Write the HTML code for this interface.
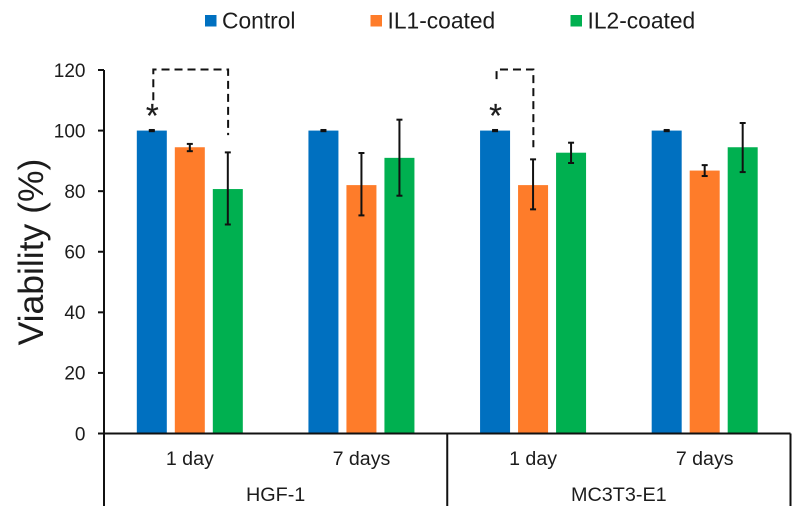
<!DOCTYPE html>
<html>
<head>
<meta charset="utf-8">
<title>Viability chart</title>
<style>
html,body{margin:0;padding:0;background:#fff;width:800px;height:517px;overflow:hidden}
svg{display:block;font-family:"Liberation Sans",Arial,sans-serif;fill:#1c1c1c}
</style>
</head>
<body>
<svg id="chart" width="800" height="517" viewBox="0 0 800 517" xmlns="http://www.w3.org/2000/svg"></svg>
<script>
const cellLines = ['HGF-1', 'MC3T3-E1'];
const timepoints = ['1 day', '7 days', '1 day', '7 days'];
const seriesNames = ['Control', 'IL1-coated', 'IL2-coated'];
const controlValues = [100, 100, 100, 100];
const il1Values = [94.5, 82, 82, 86.8];
const il2Values = [80.7, 91, 92.7, 94.5];
const controlLow = [99.8, 99.8, 99.8, 99.8];
const controlHigh = [100.2, 100.2, 100.2, 100.2];
const il1Low = [93.2, 72, 74, 85];
const il1High = [95.6, 92.6, 90.5, 88.6];
const il2Low = [69, 78.5, 89.3, 86.3];
const il2High = [92.8, 103.6, 96, 102.5];
const yTicks = [0, 20, 40, 60, 80, 100, 120];
const bracketTop = [120, 120];
const bracketBottoms = [[110, 98.5], [117, 94.5]];

const seriesValues = [controlValues, il1Values, il2Values];
const seriesLow = [controlLow, il1Low, il2Low];
const seriesHigh = [controlHigh, il1High, il2High];
const seriesColors = ['#0070c0', '#fe7c2a', '#00b050'];

const svg = document.getElementById('chart');
const NS = 'http://www.w3.org/2000/svg';
const plotLeft = 104, plotRight = 790.5, plotBottom = 433.5, plotTop = 70;
const yMax = 120;
const barWidth = 30, barStep = 38;
const ink = '#111';

function yScale(v) { return plotBottom - (v / yMax) * (plotBottom - plotTop); }
function categoryCenter(i) { return plotLeft + (plotRight - plotLeft) * (i + 0.5) / timepoints.length; }
function barCenter(i, s) { return categoryCenter(i) + (s - 1) * barStep; }

function make(tag, attrs, text) {
  const el = document.createElementNS(NS, tag);
  for (const k in attrs) el.setAttribute(k, attrs[k]);
  if (text !== undefined) el.textContent = text;
  svg.appendChild(el);
  return el;
}
function seg(x1, y1, x2, y2, width, dash) {
  const el = make('line', { x1: x1, y1: y1, x2: x2, y2: y2, stroke: ink, 'stroke-width': width });
  if (dash) el.setAttribute('stroke-dasharray', dash);
  return el;
}

// bars
seriesValues.forEach(function (vals, s) {
  vals.forEach(function (v, i) {
    const r = make('rect', { x: barCenter(i, s) - barWidth / 2, y: yScale(v), width: barWidth, height: plotBottom - yScale(v), fill: seriesColors[s] });
    
    
  });
});

// error bars
seriesLow.forEach(function (lows, s) {
  lows.forEach(function (lo, i) {
    const hi = seriesHigh[s][i];
    const cx = barCenter(i, s);
    const a = seg(cx, yScale(lo), cx, yScale(hi), 2);
    
    
    const b = seg(cx - 3, yScale(lo), cx + 3, yScale(lo), 2);
    
    
    const c = seg(cx - 3, yScale(hi), cx + 3, yScale(hi), 2);
    
    
  });
});

// y axis
const yAxis = seg(plotLeft, plotTop, plotLeft, 506, 2);


yTicks.forEach(function (t) {
  const m = seg(plotLeft - 6, yScale(t), plotLeft, yScale(t), 2);
  
  
  const l = make('text', { x: 85.5, y: yScale(t) + 6.8, 'text-anchor': 'end', 'font-size': 19 }, String(t));
  
  
});

// x axis and separators
const xAxis = seg(plotLeft - 6, plotBottom, plotRight, plotBottom, 2);


[0.5, 1].forEach(function (f) {
  const x = plotLeft + (plotRight - plotLeft) * f;
  const d = seg(x, plotBottom, x, 506, 2);
  
  
});
timepoints.forEach(function (t, i) {
  const l = make('text', { x: categoryCenter(i), y: 465, 'text-anchor': 'middle', 'font-size': 19.6 }, t);
  
  
});
cellLines.forEach(function (c, i) {
  const x = plotLeft + (plotRight - plotLeft) * (i + 0.5) / cellLines.length;
  const l = make('text', { x: x, y: 501, 'text-anchor': 'middle', 'font-size': 19.8 }, c);
  
  
});

// y title
const title = make('text', { transform: 'translate(43,252) rotate(-90)', 'text-anchor': 'middle', 'font-size': 35.5 }, 'Viability (%)');



// legend
const legendSwatchX = [205, 370.5, 570.5];
seriesNames.forEach(function (n, s) {
  const x = legendSwatchX[s];
  const r = make('rect', { x: x, y: 15, width: 11.5, height: 11.5, fill: seriesColors[s] });
  
  
  const l = make('text', { x: x + 17, y: 28.5, 'font-size': 22.8 }, n);
  
  
});

// significance brackets
[[0, 2], [2, 1]].forEach(function (pair, k) {
  const cat = pair[0], other = pair[1];
  const xL = barCenter(cat, 0) + 1.5;
  const xR = barCenter(cat, other) + 0.3;
  const yT = yScale(bracketTop[k]) - 0.5;
  const p = make('path', {
    d: 'M' + xL + ' ' + yScale(bracketBottoms[k][0]) + 'V' + yT + 'H' + xR + 'V' + yScale(bracketBottoms[k][1]),
    fill: 'none', stroke: ink, 'stroke-width': 2, 'stroke-dasharray': '8 5'
  });
  
  
  const star = make('text', { x: barCenter(cat, 0) + 0.5, y: 127, 'text-anchor': 'middle', 'font-size': 33, stroke: '#1c1c1c', 'stroke-width': 0.2 }, '*');
  
  
});
</script>
</body>
</html>
